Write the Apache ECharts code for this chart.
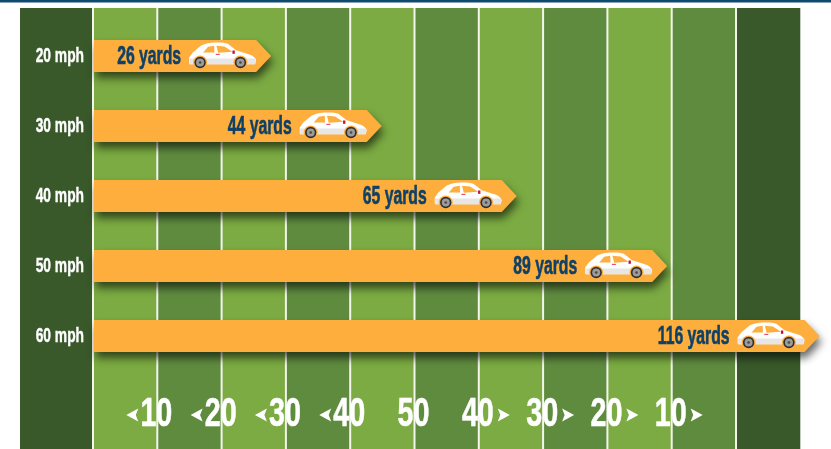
<!DOCTYPE html>
<html><head><meta charset="utf-8">
<style>html,body{margin:0;padding:0;background:#fff}#c{width:831px;height:449px}</style>
<script src="https://cdn.jsdelivr.net/npm/echarts@6/dist/echarts.min.js"></script>
</head><body><div id="c"></div>
<script>
const speeds = ['20 mph','30 mph','40 mph','50 mph','60 mph'];
const distances = [26,44,65,89,116];
const arrowReach = [27.7,44.9,65.9,89.3,113];
const fieldLabels = ['10','20','30','40','50','40','30','20','10'];
const labelYards = [10,20,30,40,50,60,70,80,90];
const labelDirs = [-1,-1,-1,-1,0,1,1,1,1];
const bandStarts = [-11.35,0,10,20,30,40,50,60,70,80,90,100];
const bandEnds = [0,10,20,30,40,50,60,70,80,90,100,110];
const bandKinds = ['end','l','d','l','d','l','d','l','d','l','d','end'];
const yardLines = [0,10,20,30,40,50,60,70,80,90,100];

const C = {end:'#39592a', l:'#7bab42', d:'#5f8b3f', bar:'#fdae3d', navy:'#0e4068', top:'#0e4a6f'};
const FONT = '"Liberation Sans Narrow","Liberation Sans",sans-serif';
const FIELD_TOP = 8;

function wheel(cx) {
  return [
    {type:'circle', shape:{cx:cx,cy:60,r:21}, style:{fill:C.bar}},
    {type:'circle', shape:{cx:cx,cy:60,r:17}, style:{fill:'#2f2f2f'}},
    {type:'circle', shape:{cx:cx,cy:60,r:12}, style:{fill:'#9c9c9c'}},
    {type:'circle', shape:{cx:cx,cy:60,r:4}, style:{fill:'#4a4a4a'}}
  ];
}
function car(x, y) {
  return {type:'group', x:x, y:y, scaleX:1/3, scaleY:1/3, children:[
    {type:'path', shape:{pathData:'M0 62 L0 45 L11 30 L36 9 C50 3 62 0 76 0 C92 -1 106 0 116 4 L141 23 L181 36 C192 40 199 46 201 53 L198 65 L2 65 Z'}, style:{fill:'#ffffff'}},
    {type:'path', shape:{pathData:'M1 48 L200 48 L198 65 L2 65 Z'}, style:{fill:'#e6e6e6'}},
    {type:'path', shape:{pathData:'M42 30 L57 13 L75 10 L76 30 Z'}, style:{fill:C.bar}},
    {type:'path', shape:{pathData:'M82 10 L106 12 L130 28 L87 31 Z'}, style:{fill:C.bar}},
    {type:'rect', shape:{x:80,y:34,width:12,height:3}, style:{fill:'#d9334a'}},
    {type:'rect', shape:{x:130,y:24,width:7,height:10}, style:{fill:'#c8102e'}}
  ].concat(wheel(33), wheel(154))};
}

const chart = echarts.init(document.getElementById('c'), null, {renderer:'canvas'});
chart.setOption({
  animation:false,
  backgroundColor:'#ffffff',
  graphic:[{type:'rect', left:0, top:0, shape:{width:831,height:2.5}, style:{fill:C.top}}],
  grid:{left:93, top:21, width:643, height:350},
  xAxis:{type:'value', min:0, max:100, interval:10, show:false},
  yAxis:{type:'category', inverse:true, data:speeds, z:6,
    axisLine:{show:false}, axisTick:{show:false}, axisLabel:{show:false}},
  series:[
    {type:'custom', name:'field', z:1, silent:true, clip:false,
     data:bandStarts.map((s,i)=>[s,bandEnds[i],bandKinds[i]]),
     encode:{x:[0,1]},
     renderItem:(p,api)=>{
       const a=api.coord([api.value(0),0])[0], b=api.coord([api.value(1),0])[0];
       return {type:'rect', shape:{x:a,y:FIELD_TOP,width:b-a,height:api.getHeight()-FIELD_TOP},
               style:{fill:C[bandKinds[p.dataIndex]]}};
     }},
    {type:'custom', name:'lines', z:2, silent:true, clip:false,
     data:yardLines.map(v=>[v]), encode:{x:0},
     renderItem:(p,api)=>{
       const x=api.coord([api.value(0),0])[0];
       return {type:'rect', shape:{x:x-1,y:FIELD_TOP,width:2,height:api.getHeight()-FIELD_TOP}, style:{fill:'#f4f6ee'}};
     }},
    {type:'custom', name:'speed labels', z:3, silent:true, clip:false,
     data:speeds.map((s,i)=>[0,i]), encode:{x:0,y:1},
     renderItem:(p,api)=>{
       const c=api.coord([0,p.dataIndex]);
       return {type:'text', x:c[0]-9, y:c[1]+0.5, scaleX:0.69,
         style:{x:0,y:0,text:speeds[p.dataIndex],align:'right',verticalAlign:'middle',fill:'#ffffff',
                stroke:'#ffffff',lineWidth:0.4,font:'bold 20px '+FONT}};
     }},
    {type:'custom', name:'field numbers', z:3, silent:true, clip:false,
     data:labelYards.map(v=>[v]), encode:{x:0},
     renderItem:(p,api)=>{
       const i=p.dataIndex, x=api.coord([api.value(0),0])[0], y=415, d=labelDirs[i];
       const kids=[{type:'text', x:x+15, y:y, scaleX:0.7, style:{x:0,y:0,text:fieldLabels[i],align:'right',verticalAlign:'middle',
         fill:'#ffffff',stroke:'#ffffff',lineWidth:0.6,font:'bold 41px '+FONT}}];
       if(d){
         const back=x+d*19, tip=x+d*31;
         kids.push({type:'polygon', shape:{points:[[back,y-6.5],[tip,y],[back,y+6.5],[back+d*2.5,y]]},
           style:{fill:'#ffffff'}});
       }
       return {type:'group', children:kids};
     }},
    {type:'custom', name:'stopping distance', z:4, clip:false,
     data:arrowReach.map((v,i)=>[v,i]), encode:{x:0,y:1},
     renderItem:(p,api)=>{
       const i=p.dataIndex, tip=api.coord([api.value(0),i]), cy=tip[1], x0=api.coord([0,i])[0]+1;
       const end=tip[0]-15, h=16;
       return {type:'group', children:[
         {type:'polygon', shape:{points:[[x0,cy-h],[end,cy-h],[tip[0],cy],[end,cy+h],[x0,cy+h]]},
          style:{fill:C.bar, shadowBlur:9, shadowOffsetX:2, shadowOffsetY:6, shadowColor:'rgba(0,0,0,0.6)'}},
         {type:'text', x:end-75, y:cy+1, scaleX:0.63, style:{x:0,y:0,text:distances[i]+' yards',align:'right',verticalAlign:'middle',
          fill:C.navy,stroke:C.navy,lineWidth:0.6,font:'bold 25px '+FONT}},
         car(end-67, cy-13.5)
       ]};
     }}
  ]
});
</script></body></html>
